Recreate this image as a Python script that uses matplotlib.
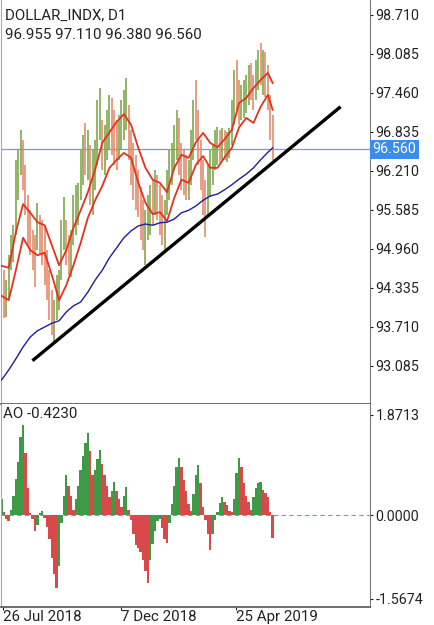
import matplotlib
matplotlib.use("Agg")
import matplotlib.pyplot as plt
import matplotlib.transforms as mtransforms
import numpy as np

plt.rcParams['font.family'] = ['Roboto', 'DejaVu Sans']

# price bars (each bar = 2 trading days)
highs = [94.70, 94.62, 94.46, 94.86, 95.18, 95.34, 96.39, 96.55, 96.87, 96.71,
         96.31, 95.83, 95.59, 95.26, 95.18, 95.70, 95.50, 95.42, 95.31, 94.94,
         94.62, 94.30, 94.14, 94.54, 94.62, 95.42, 95.79, 95.42, 95.18, 95.26,
         95.83, 95.99, 96.02, 96.55, 96.79, 96.98, 96.87, 96.63, 96.55, 96.71,
         97.35, 97.54, 97.03, 96.95, 97.19, 97.43, 97.38, 97.19, 97.03, 97.11,
         97.35, 97.51, 97.70, 97.27, 96.87, 96.66, 96.47, 96.23, 95.95, 95.75,
         95.59, 95.83, 95.99, 96.07, 96.23, 96.15, 95.99, 95.83, 95.75, 96.23,
         96.55, 96.66, 96.95, 97.19, 97.06, 96.66, 96.55, 96.47, 96.39, 96.87,
         97.35, 97.67, 97.19, 96.71, 96.39, 96.07, 96.31, 96.55, 96.63, 96.87,
         96.91, 96.87, 96.90, 96.87, 96.83, 96.90, 97.35, 97.83, 97.99, 97.67,
         97.59, 97.67, 97.75, 97.91, 97.94, 97.75, 97.99, 98.15, 98.26, 98.15,
         98.12, 97.91, 97.43, 97.11]
lows = [93.95, 93.85, 93.87, 94.14, 94.62, 94.75, 95.18, 95.75, 96.15, 95.91,
        95.50, 95.02, 94.86, 94.62, 94.35, 94.94, 94.86, 94.70, 94.38, 94.14,
        93.82, 93.58, 93.45, 93.82, 93.98, 94.46, 94.94, 94.70, 94.54, 94.51,
        95.02, 95.18, 95.34, 95.75, 95.99, 96.15, 96.07, 95.67, 95.50, 95.91,
        96.31, 96.71, 96.23, 96.15, 96.39, 96.55, 96.47, 96.31, 96.23, 96.39,
        96.55, 96.71, 96.87, 96.39, 95.99, 95.75, 95.59, 95.47, 95.10, 94.94,
        94.70, 95.10, 95.18, 95.34, 95.50, 95.42, 95.18, 95.02, 94.94, 95.50,
        95.75, 95.99, 96.23, 96.39, 96.15, 95.91, 95.83, 95.75, 95.75, 95.99,
        96.39, 96.71, 96.31, 95.91, 95.50, 95.15, 95.50, 95.79, 95.99, 96.23,
        96.31, 96.34, 96.39, 96.39, 96.35, 96.42, 96.63, 96.95, 97.19, 96.95,
        97.03, 97.06, 97.14, 97.27, 97.35, 97.19, 97.35, 97.51, 97.59, 97.43,
        97.40, 97.19, 96.71, 96.38]
closes = [94.30, 94.14, 94.22, 94.78, 95.02, 95.23, 96.15, 96.39, 96.63, 96.07,
          95.67, 95.34, 95.10, 94.86, 94.78, 95.34, 95.10, 94.94, 94.62, 94.30,
          94.06, 93.82, 93.98, 94.38, 94.46, 95.18, 95.26, 94.94, 94.86, 95.02,
          95.50, 95.75, 95.91, 96.31, 96.55, 96.47, 96.63, 95.99, 96.23, 96.47,
          96.87, 96.95, 96.55, 96.71, 96.79, 97.11, 96.87, 96.71, 96.63, 96.95,
          97.11, 97.27, 97.35, 96.63, 96.23, 96.07, 95.83, 95.67, 95.34, 95.18,
          95.34, 95.50, 95.75, 95.59, 95.83, 95.67, 95.42, 95.26, 95.67, 95.99,
          96.31, 96.55, 96.71, 96.87, 96.39, 96.23, 96.15, 95.99, 96.15, 96.63,
          97.03, 96.95, 96.55, 96.15, 95.75, 95.59, 96.07, 96.31, 96.47, 96.63,
          96.71, 96.55, 96.71, 96.58, 96.63, 96.71, 97.19, 97.59, 97.43, 97.27,
          97.35, 97.43, 97.59, 97.67, 97.51, 97.43, 97.75, 97.91, 97.83, 97.99,
          97.67, 97.35, 96.96, 96.56]

# moving averages, sampled every 3rd bar (+ last bar)
ma_idx = list(range(0, 112, 3)) + [113]
ma_red1 = [94.69, 94.66, 95.23, 95.68, 95.54, 95.39, 95.34, 95.02, 94.70, 94.94,
           95.30, 95.58, 95.87, 96.23, 96.66, 96.83, 97.00, 97.12, 96.95, 96.58,
           96.26, 96.07, 96.02, 95.87, 96.26, 96.47, 96.42, 96.67, 96.82, 96.66,
           96.59, 96.72, 96.87, 97.30, 97.38, 97.54, 97.67, 97.78, 97.62]
ma_red2 = [94.21, 94.14, 94.62, 95.14, 94.94, 94.86, 94.90, 94.54, 94.14, 94.38,
           94.70, 95.06, 95.46, 95.74, 95.97, 96.26, 96.39, 96.50, 96.42, 96.02,
           95.70, 95.52, 95.55, 95.41, 95.78, 96.07, 96.02, 96.31, 96.45, 96.26,
           96.26, 96.43, 96.58, 96.91, 97.06, 96.98, 97.24, 97.43, 97.19]
ma_blue = [92.86, 93.02, 93.20, 93.39, 93.55, 93.65, 93.71, 93.77, 93.81, 93.95,
           94.05, 94.11, 94.27, 94.46, 94.62, 94.82, 94.98, 95.14, 95.25, 95.33,
           95.36, 95.34, 95.38, 95.39, 95.44, 95.54, 95.58, 95.65, 95.74, 95.81,
           95.84, 95.91, 95.99, 96.08, 96.16, 96.26, 96.39, 96.51, 96.58]

# Awesome Oscillator per bar
ao = [0.30, 0.05, -0.08, -0.12, 0.10, 0.35, 0.68, 1.00, 1.45, 1.68,
      1.16, 0.50, 0.03, -0.08, -0.30, -0.18, 0.03, 0.07, -0.05, -0.22,
      -0.45, -0.80, -1.10, -1.37, -0.95, -0.15, 0.35, 0.75, 0.55, 0.35,
      0.10, 0.30, 0.55, 0.85, 1.10, 1.35, 1.53, 1.20, 0.75, 0.85,
      1.05, 1.22, 0.95, 0.75, 0.55, 0.34, 0.45, 0.62, 0.45, 0.30,
      0.15, 0.35, 0.53, 0.10, -0.10, -0.35, -0.56, -0.62, -0.70, -0.85,
      -1.05, -1.27, -0.85, -0.55, -0.30, -0.12, -0.08, -0.25, -0.45, -0.52,
      -0.15, 0.20, 0.55, 0.90, 1.07, 0.90, 0.65, 0.45, 0.20, 0.08,
      0.40, 0.75, 0.93, 0.60, 0.15, -0.10, -0.35, -0.65, -0.35, -0.10,
      0.05, 0.22, 0.34, 0.25, 0.18, 0.08, 0.05, 0.30, 0.78, 1.07,
      0.90, 0.60, 0.35, 0.25, 0.10, 0.34, 0.50, 0.60, 0.62, 0.47,
      0.42, 0.34, 0.05, -0.423]

trend_x = [12.9, 141.3]
trend_y = [93.17, 97.24]
last_price = 96.560
price_ticks = [98.710, 98.085, 97.460, 96.835, 96.210, 95.585, 94.960, 94.335, 93.710, 93.085]
ao_ticks = [1.8713, 0.0, -1.5674]
date_pos = [0.8, 49.6, 97.9]
date_labels = ['26 Jul 2018', '7 Dec 2018', '25 Apr 2019']

idx = np.arange(len(closes))
prev = np.r_[closes[0] - 0.01, closes[:-1]]
up = np.array(closes) >= prev
bar_cols = np.where(up, '#7fa84a', '#e48a6c')

fig = plt.figure(figsize=(4.35, 6.25), dpi=100)
ax = fig.add_axes([1 / 435, 1 - 404 / 625, 369 / 435, 404 / 625])
ax2 = fig.add_axes([1 / 435, 18 / 625, 369 / 435, 203 / 625])

xlim = (-0.2, 153.55)

# --- price panel
ax.vlines(idx, lows, highs, colors=bar_cols, lw=1.2, zorder=2)
ax.plot(ma_idx, ma_red1, color='#e5321c', lw=1.3, zorder=3)
ax.plot(ma_idx, ma_red2, color='#e5321c', lw=1.3, zorder=3)
ax.plot(ma_idx, ma_blue, color='#1d1d9e', lw=1.0, zorder=3)
ax.axhline(last_price, color='#6f9fd8', lw=0.9, zorder=1)
ax.plot(trend_x, trend_y, color='black', lw=2.4, solid_capstyle='butt', zorder=4)

ax.set_xlim(*xlim)
ax.set_ylim(92.476, 98.95)
ax.yaxis.tick_right()
ax.set_yticks(price_ticks)
ax.set_yticklabels(['%.3f' % v for v in price_ticks])
ax.set_xticks([])
ax.tick_params(axis='y', length=2, pad=2, labelsize=10.3, colors='#222222')
ax.spines['top'].set_visible(False)
ax.spines['left'].set_color('#aaaaaa')
ax.spines['right'].set_color('#777777')
ax.spines['bottom'].set_color('#555555')
ax.spines['bottom'].set_linewidth(1.2)

trans = mtransforms.blended_transform_factory(ax.transAxes, ax.transData)
ax.text(1.006, last_price, '%.3f' % last_price, transform=trans, color='white',
        fontsize=10.3, va='center', ha='left', zorder=5,
        bbox=dict(boxstyle='square,pad=0.18', fc='#3a8cf0', ec='none'))

ax.text(0.011, 0.963, 'DOLLAR_INDX, D1', transform=ax.transAxes, fontsize=10.8,
        va='center', ha='left', color='#222222')
ax.text(0.011, 0.914, '96.955 97.110 96.380 96.560', transform=ax.transAxes,
        fontsize=10.8, va='center', ha='left', color='#222222')

# --- AO panel
ao_arr = np.array(ao)
ao_prev = np.r_[ao_arr[0] - 0.01, ao_arr[:-1]]
ao_cols = np.where(ao_arr > ao_prev, '#3f9a45', '#d9494a')
ax2.axhline(0, color='#b08888', lw=0.8, ls=(0, (4, 3)), zorder=1)
ax2.bar(idx, ao_arr, width=1.0, color=ao_cols, edgecolor='none', zorder=2)
ax2.set_xlim(*xlim)
ax2.set_ylim(-1.720, 2.076)
ax2.yaxis.tick_right()
ax2.set_yticks(ao_ticks)
ax2.set_yticklabels(['1.8713', '0.0000', '-1.5674'])
ax2.set_xticks(date_pos)
ax2.set_xticklabels(date_labels, ha='left')
ax2.tick_params(axis='y', length=2, pad=2, labelsize=10.3, colors='#222222')
ax2.tick_params(axis='x', length=2, pad=0, labelsize=10.8, colors='#222222')
ax2.spines['top'].set_visible(False)
ax2.spines['left'].set_color('#aaaaaa')
ax2.spines['right'].set_color('#777777')
ax2.spines['bottom'].set_color('#555555')
ax2.spines['bottom'].set_linewidth(1.2)
ax2.text(0.006, 0.95, 'AO -0.4230', transform=ax2.transAxes, fontsize=10.8,
         va='center', ha='left', color='#222222')

fig.savefig('out.png', dpi=100, facecolor='white')
